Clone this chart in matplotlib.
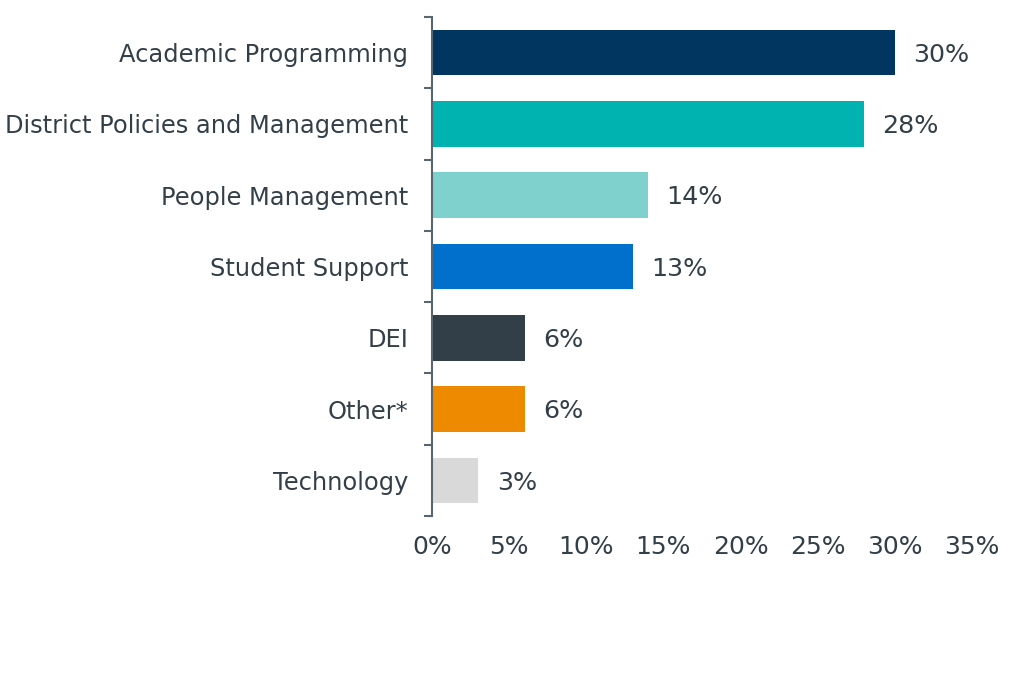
import matplotlib.pyplot as plt
from matplotlib.ticker import FixedLocator, PercentFormatter

categories = ["Academic Programming", "District Policies and Management",
              "People Management", "Student Support", "DEI", "Other*", "Technology"]
values = [30, 28, 14, 13, 6, 6, 3]
colors = ["#003660", "#00B2B0", "#7FD1CE", "#0070CD", "#333F48", "#EE8A00", "#D9D9D9"]
xticks = [0, 5, 10, 15, 20, 25, 30, 35]

txt = "#333F48"
fs = 17.4
fig = plt.figure(figsize=(10.24, 6.84), dpi=100)
ax = fig.add_axes([0.4219, 0.2456, 0.5273, 0.7295])

y = list(range(len(categories)))
ax.barh(y, values, height=0.64, color=colors)
for yi, v in zip(y, values):
    ax.text(v + 1.2, yi + 0.03, f"{v}%", va="center", ha="left", fontsize=18.3, color=txt)

ax.set_xlim(0, 35)
ax.set_ylim(len(categories) - 0.5, -0.5)
ax.set_xticks(xticks)
ax.xaxis.set_major_formatter(PercentFormatter(decimals=0))
ax.tick_params(axis="x", length=0, pad=14, labelsize=fs + 0.6, labelcolor=txt)

ax.set_yticks(y)
ax.set_yticklabels(categories)
ax.tick_params(axis="y", which="major", length=0, pad=17, labelsize=fs, labelcolor=txt)
ax.yaxis.set_minor_locator(FixedLocator([i - 0.5 for i in range(len(categories) + 1)]))
ax.tick_params(axis="y", which="minor", length=6, width=1.5, color="#5A6570", direction="out")

for s in ["top", "right", "bottom"]:
    ax.spines[s].set_visible(False)
ax.spines["left"].set_color("#5A6570")
ax.spines["left"].set_linewidth(1.5)

fig.savefig("out.png", dpi=100)
